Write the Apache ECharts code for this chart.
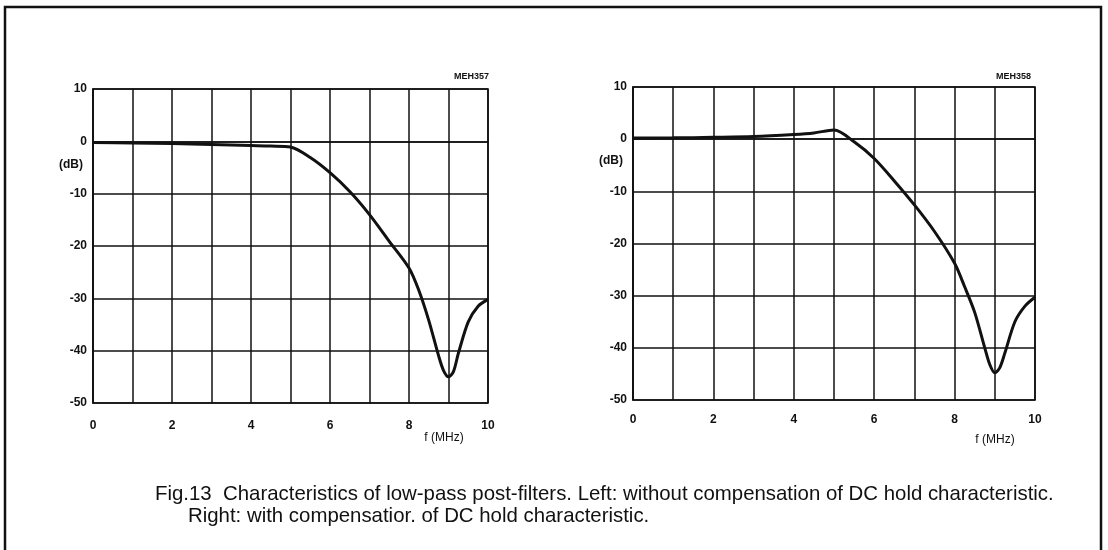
<!DOCTYPE html>
<html>
<head>
<meta charset="utf-8">
<script src="https://cdn.jsdelivr.net/npm/echarts@6/dist/echarts.min.js"></script>
<style>html,body{margin:0;padding:0;background:#fff;}#c{width:1108px;height:550px;}</style>
</head>
<body>
<div id="c"></div>
<script>
// Data
var leftFreq  = [0, 1, 2, 3, 4, 4.5, 5, 5.5, 6, 6.5, 7, 7.5, 8, 8.25, 8.5, 8.75, 8.875, 9, 9.125, 9.25, 9.5, 9.75, 10];
var leftGain  = [-0.2, -0.3, -0.4, -0.6, -0.8, -0.9, -1.1, -3.1, -6.0, -9.6, -14, -19.1, -24.2, -28.5, -34.2, -41, -43.8, -45, -44, -40.5, -34.5, -31.5, -30.2];
var rightFreq = [0, 1, 2, 3, 4, 4.5, 5, 5.5, 6, 6.5, 7, 7.5, 8, 8.25, 8.5, 8.75, 8.875, 9, 9.125, 9.25, 9.5, 9.75, 10];
var rightGain = [0.2, 0.25, 0.35, 0.5, 0.9, 1.2, 1.75, -0.5, -3.7, -8.0, -12.6, -17.7, -23.8, -28.3, -33.2, -40, -43.2, -44.8, -43.8, -41, -35, -32, -30.3];
var xTicks = [0, 2, 4, 6, 8, 10];
var yTicks = [10, 0, -10, -20, -30, -40, -50];
var codes = ['MEH357', 'MEH358'];
var xName = 'f (MHz)';
var yName = '(dB)';
var captionLines = [
  'Fig.13  Characteristics of low-pass post-filters. Left: without compensation of DC hold characteristic.',
  'Right: with compensatior. of DC hold characteristic.'
];

function pairs(xs, ys) { return xs.map(function (x, i) { return [x, ys[i]]; }); }

var FONT = 'Liberation Sans, Arial, sans-serif';
var ink = '#111';

function xAxis(idx, margin) {
  return {
    type: 'value', gridIndex: idx, min: 0, max: 10, interval: 1,
    axisLine: { show: true, lineStyle: { color: ink, width: 1.6 } },
    axisTick: { show: false },
    splitLine: { show: true, lineStyle: { color: ink, width: 1.5 } },
    axisLabel: {
      margin: margin, color: ink, fontFamily: FONT, fontSize: 12, fontWeight: 'bold',
      formatter: function (v) { return xTicks.indexOf(v) >= 0 ? String(v) : ''; }
    }
  };
}
function yAxis(idx) {
  return {
    type: 'value', gridIndex: idx, min: -50, max: 10, interval: 10,
    axisLine: { show: true, lineStyle: { color: ink, width: 1.6 } },
    axisTick: { show: false },
    splitLine: { show: true, lineStyle: { color: ink, width: 1.5 } },
    axisLabel: {
      margin: 6, color: ink, fontFamily: FONT, fontSize: 12, fontWeight: 'bold',
      formatter: function (v) { return yTicks.indexOf(v) >= 0 ? String(v) : ''; }
    }
  };
}

var chart = echarts.init(document.getElementById('c'), null, { renderer: 'canvas' });
chart.setOption({
  backgroundColor: '#fff',
  animation: false,
  grid: [
    { left: 93, top: 89, width: 395, height: 314, show: true, borderColor: ink, borderWidth: 1.6 },
    { left: 633, top: 87, width: 402, height: 313, show: true, borderColor: ink, borderWidth: 1.6 }
  ],
  xAxis: [xAxis(0, 17), xAxis(1, 14)],
  yAxis: [yAxis(0), yAxis(1)],
  series: [
    { type: 'line', xAxisIndex: 0, yAxisIndex: 0, data: pairs(leftFreq, leftGain), smooth: 0.3,
      showSymbol: false, lineStyle: { color: ink, width: 3 } },
    { type: 'line', xAxisIndex: 1, yAxisIndex: 1, data: pairs(rightFreq, rightGain), smooth: 0.3,
      showSymbol: false, lineStyle: { color: ink, width: 3 } }
  ],
  graphic: [
    { type: 'rect', shape: { x: 5, y: 7, width: 1096, height: 600 }, style: { fill: 'none', stroke: ink, lineWidth: 2.5 } },
    { type: 'text', x: 489, y: 77, style: { text: codes[0], font: 'bold 9px ' + FONT, fill: ink, align: 'right', verticalAlign: 'middle' } },
    { type: 'text', x: 1031, y: 77, style: { text: codes[1], font: 'bold 9px ' + FONT, fill: ink, align: 'right', verticalAlign: 'middle' } },
    { type: 'text', x: 83, y: 165, style: { text: yName, font: 'bold 12px ' + FONT, fill: ink, align: 'right', verticalAlign: 'middle' } },
    { type: 'text', x: 623, y: 161, style: { text: yName, font: 'bold 12px ' + FONT, fill: ink, align: 'right', verticalAlign: 'middle' } },
    { type: 'text', x: 444, y: 438, style: { text: xName, font: '12px ' + FONT, fill: ink, align: 'center', verticalAlign: 'middle' } },
    { type: 'text', x: 995, y: 440, style: { text: xName, font: '12px ' + FONT, fill: ink, align: 'center', verticalAlign: 'middle' } },
    { type: 'text', x: 155, y: 494, style: { text: captionLines[0], font: '20.4px ' + FONT, fill: ink, align: 'left', verticalAlign: 'middle' } },
    { type: 'text', x: 188, y: 516, style: { text: captionLines[1], font: '20.4px ' + FONT, fill: ink, align: 'left', verticalAlign: 'middle' } }
  ]
});
</script>
</body>
</html>
